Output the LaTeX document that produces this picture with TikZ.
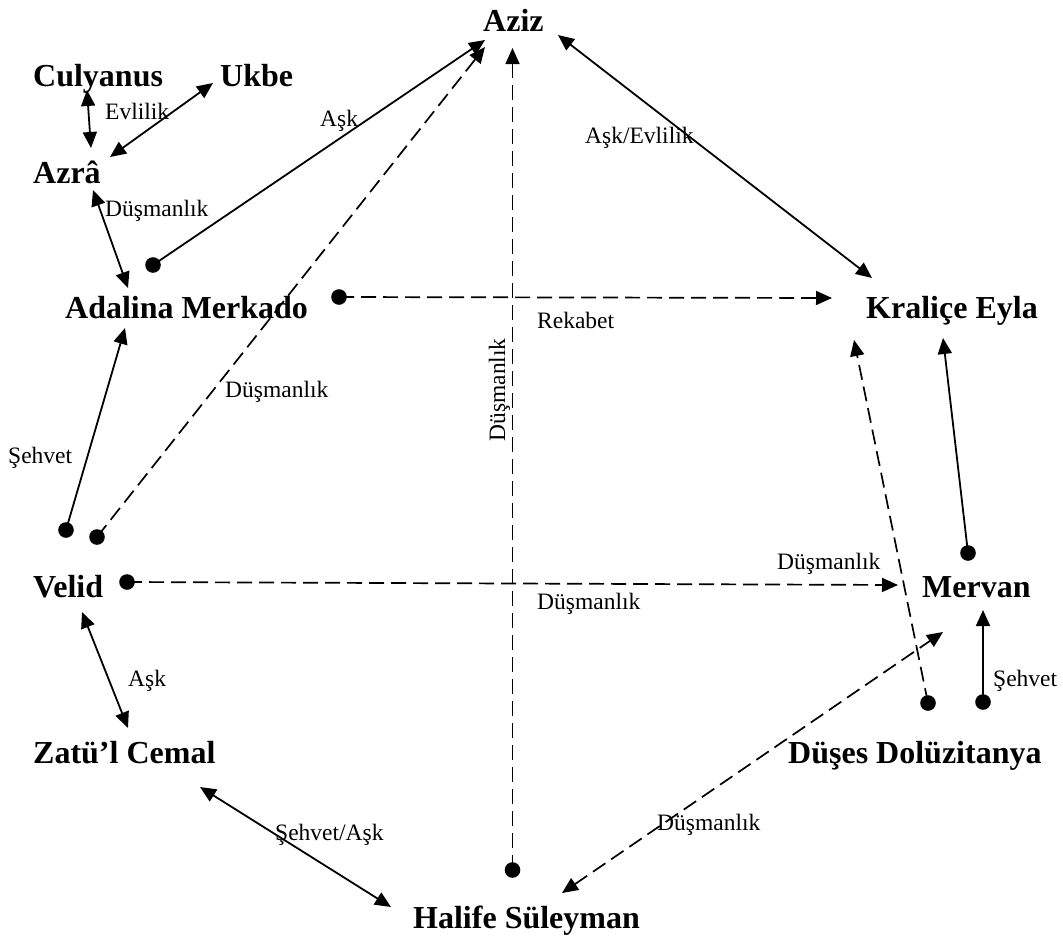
\documentclass[tikz,border=0pt]{standalone}
\usepackage{fontspec}
\setmainfont{Liberation Serif}
\usetikzlibrary{arrows.meta}
\begin{document}
\begin{tikzpicture}[x=1pt,y=-1pt,
  who/.style={font=\fontsize{32}{38}\selectfont\bfseries, inner sep=0pt, anchor=base west},
  rel/.style={font=\fontsize{23.5}{28}\selectfont, inner sep=0pt, anchor=base west},
  link/.style={line width=1.8pt},
  dashlink/.style={line width=1.7pt, dash pattern=on 15pt off 7pt},
  >={Triangle[length=16pt,width=14pt]},
  dotmark/.style={fill=black}]
\useasboundingbox (0,0) rectangle (1063,937);

% characters
\node[who] (aziz)    at (483,31)  {Aziz};
\node[who] (culyanus) at (33,86)  {Culyanus};
\node[who] (ukbe)    at (220,86)  {Ukbe};
\node[who] (azra)    at (33,183)  {Azrâ};
\node[who] (adalina) at (65,318)  {Adalina Merkado};
\node[who] (kralice) at (866,318) {Kraliçe Eyla};
\node[who] (velid)   at (33,597)  {Velid};
\node[who] (mervan)  at (922,597) {Mervan};
\node[who] (zatul)   at (33,763)  {Zatü’l Cemal};
\node[who] (duses)   at (788,763) {Düşes Dolüzitanya};
\node[who] (halife)  at (413,928) {Halife Süleyman};

% connector end points
\coordinate (culA)  at (87,90);   \coordinate (azrC)  at (91,148);
\coordinate (azrU)  at (110,157); \coordinate (ukbA)  at (213,83);
\coordinate (azrD)  at (93,190);  \coordinate (adaA)  at (128,288);
\coordinate (adaAsk) at (153,265); \coordinate (azAsk) at (485,40);
\coordinate (velDus) at (97,537); \coordinate (azDus) at (485,47);
\coordinate (halDus) at (512.5,870); \coordinate (azVert) at (512.5,48);
\coordinate (azKr)  at (558,35);  \coordinate (krAz)  at (872,278);
\coordinate (adaRek) at (339,297); \coordinate (krRek) at (832,298);
\coordinate (velSeh) at (66,530); \coordinate (adaSeh) at (125,328);
\coordinate (velMer) at (127,582); \coordinate (merVel) at (898,585);
\coordinate (velZat) at (82,612); \coordinate (zatVel) at (128,728);
\coordinate (zatHal) at (200,787); \coordinate (halZat) at (391,907);
\coordinate (halMer) at (562,893); \coordinate (merHal) at (943,632);
\coordinate (dusKr) at (928,703); \coordinate (krDus) at (854,340);
\coordinate (merKr) at (968,553); \coordinate (krMer) at (943,338);
\coordinate (dusMer) at (983,702); \coordinate (merDus) at (983,610);

% solid relations
\draw[link,<->] (culA) -- (azrC);
\draw[link,<->] (azrU) -- (ukbA);
\draw[link,<->] (azrD) -- (adaA);
\draw[link,->]  (adaAsk) -- (azAsk);
\draw[link,<->] (azKr) -- (krAz);
\draw[link,->]  (velSeh) -- (adaSeh);
\draw[link,<->] (velZat) -- (zatVel);
\draw[link,<->] (zatHal) -- (halZat);
\draw[link,->]  (merKr) -- (krMer);
\draw[link,->]  (dusMer) -- (merDus);

% dashed relations
\draw[dashlink,->]  (velDus) -- (azDus);
\draw[dashlink,->]  (halDus) -- (azVert);
\draw[dashlink,->]  (adaRek) -- (krRek);
\draw[dashlink,->]  (velMer) -- (merVel);
\draw[dashlink,<->] (halMer) -- (merHal);
\draw[dashlink,->]  (dusKr) -- (krDus);

% starting dots
\foreach \p in {adaAsk,velDus,halDus,adaRek,velSeh,velMer,dusKr,merKr,dusMer}
  \fill[dotmark] (\p) circle (7.8pt);

% relation labels
\node[rel] (lEvl)  at (105,119) {Evlilik};
\node[rel] (lDus1) at (105,216) {Düşmanlık};
\node[rel] (lAsk1) at (320,126) {Aşk};
\node[rel] (lAskE) at (585,143) {Aşk/Evlilik};
\node[rel] (lRek)  at (537,328) {Rekabet};
\node[rel,anchor=base,rotate=90] (lDusV) at (505,390) {Düşmanlık};
\node[rel] (lDus2) at (225,397) {Düşmanlık};
\node[rel] (lSeh1) at (8,463)   {Şehvet};
\node[rel] (lDus3) at (777,569) {Düşmanlık};
\node[rel] (lDus4) at (537,609) {Düşmanlık};
\node[rel] (lAsk2) at (128,686) {Aşk};
\node[rel] (lSeh2) at (993,686) {Şehvet};
\node[rel] (lSA)   at (275,840) {Şehvet/Aşk};
\node[rel] (lDus5) at (657,830) {Düşmanlık};
\end{tikzpicture}
\end{document}
